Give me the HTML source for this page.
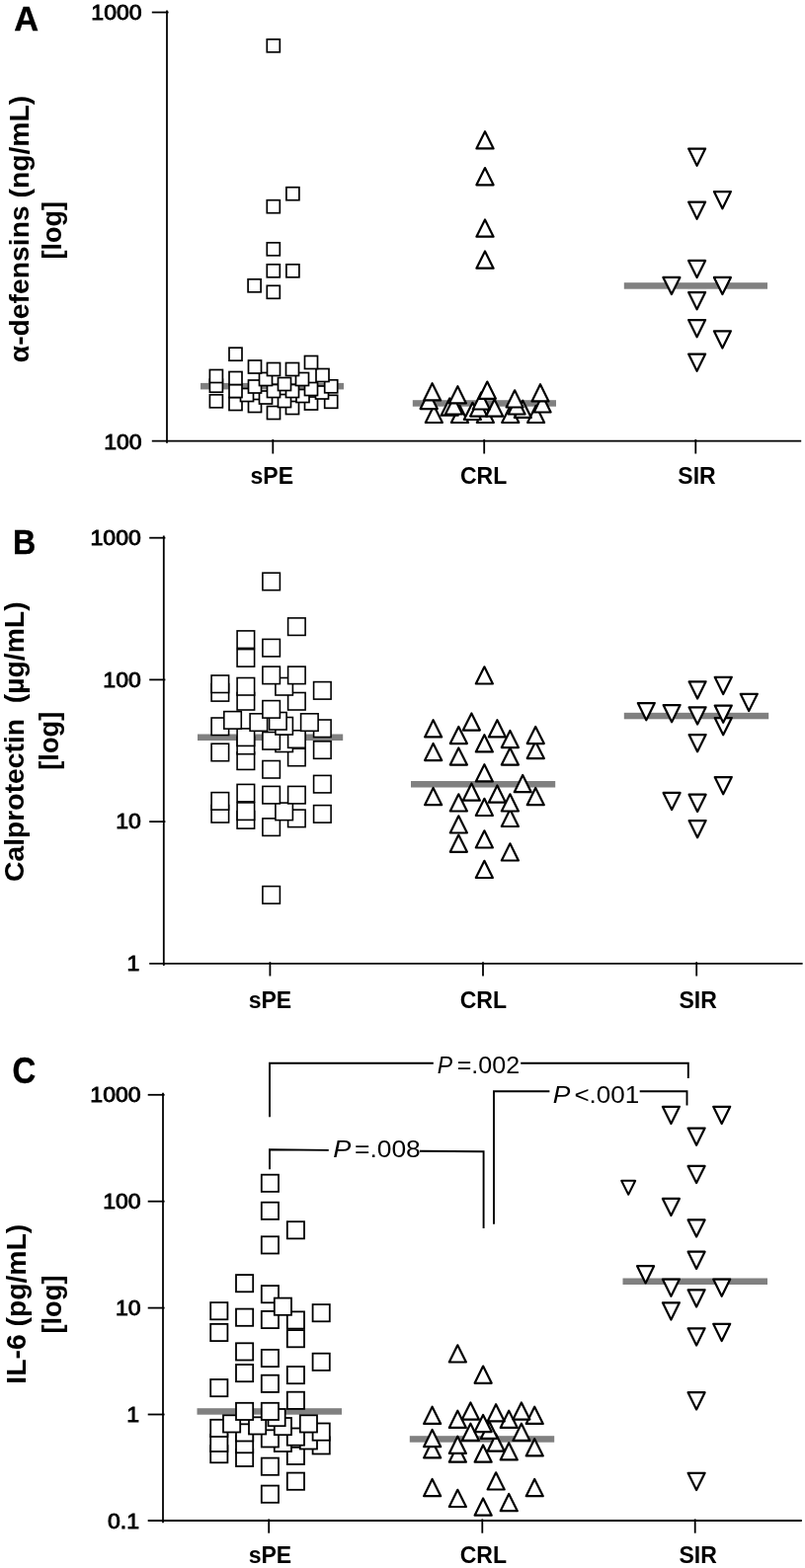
<!DOCTYPE html>
<html lang="en"><head><meta charset="utf-8"><title>Figure</title>
<style>
html,body{margin:0;padding:0;background:#fff}
svg{display:block}
svg text{font-family:"Liberation Sans",Arial,Helvetica,sans-serif;fill:#000}
</style></head><body>
<svg width="815" height="1588" viewBox="0 0 815 1588">
<rect width="815" height="1588" fill="#fff"/>
<g id="panelA">
<text transform="translate(14.3 30.9) scale(0.97 1)" font-size="35.5" font-weight="bold" text-anchor="start" stroke="#000" stroke-width="0.4">A</text>
<path d="M169.0 10.6L169.0 448.8" stroke="#000" stroke-width="1.8" fill="none"/>
<path d="M153.8 12.5L170.6 12.5" stroke="#000" stroke-width="1.8" fill="none"/>
<path d="M153.8 446.6L811.2 446.6" stroke="#000" stroke-width="1.8" fill="none"/>
<path d="M276.3 445.0L276.3 459.5" stroke="#000" stroke-width="1.8" fill="none"/>
<path d="M490.2 445.0L490.2 459.5" stroke="#000" stroke-width="1.8" fill="none"/>
<path d="M704.3 445.0L704.3 459.5" stroke="#000" stroke-width="1.8" fill="none"/>
<text transform="translate(143.6 20.2) scale(1.02 1)" font-size="22.6" font-weight="normal" text-anchor="end" stroke="#000" stroke-width="0.9">1000</text>
<text transform="translate(143.6 454.8) scale(1.02 1)" font-size="22.6" font-weight="normal" text-anchor="end" stroke="#000" stroke-width="0.9">100</text>
<text transform="translate(275.3 490.0) scale(1.0 1)" font-size="23" font-weight="bold" text-anchor="middle" >sPE</text>
<text transform="translate(489.6 490.0) scale(1.0 1)" font-size="23" font-weight="bold" text-anchor="middle" >CRL</text>
<text transform="translate(705.5 490.0) scale(1.0 1)" font-size="23" font-weight="bold" text-anchor="middle" >SIR</text>
<text transform="translate(28.6 232.0) rotate(-90) scale(1.0 1)" font-size="28.3" font-weight="bold" text-anchor="middle" xml:space="preserve">α-defensins (ng/mL)</text>
<text transform="translate(62.2 233.3) rotate(-90) scale(1.0 1)" font-size="27" font-weight="bold" text-anchor="middle" xml:space="preserve">[log]</text>
<rect x="203.0" y="387.9" width="145.0" height="6.5" fill="#808080"/>
<rect x="417.8" y="405.2" width="145.2" height="6.5" fill="#808080"/>
<rect x="631.8" y="286.2" width="145.2" height="6.5" fill="#808080"/>
<rect x="270.5" y="411.5" width="13.0" height="13.0" fill="#fff" stroke="#000" stroke-width="1.7"/>
<rect x="289.5" y="406.5" width="13.0" height="13.0" fill="#fff" stroke="#000" stroke-width="1.7"/>
<rect x="251.5" y="404.5" width="13.0" height="13.0" fill="#fff" stroke="#000" stroke-width="1.7"/>
<rect x="232.0" y="402.5" width="13.0" height="13.0" fill="#fff" stroke="#000" stroke-width="1.7"/>
<rect x="308.5" y="402.0" width="13.0" height="13.0" fill="#fff" stroke="#000" stroke-width="1.7"/>
<rect x="328.7" y="400.3" width="13.0" height="13.0" fill="#fff" stroke="#000" stroke-width="1.7"/>
<rect x="212.4" y="399.8" width="13.0" height="13.0" fill="#fff" stroke="#000" stroke-width="1.7"/>
<rect x="281.5" y="399.5" width="13.0" height="13.0" fill="#fff" stroke="#000" stroke-width="1.7"/>
<rect x="262.5" y="396.0" width="13.0" height="13.0" fill="#fff" stroke="#000" stroke-width="1.7"/>
<rect x="300.0" y="394.5" width="13.0" height="13.0" fill="#fff" stroke="#000" stroke-width="1.7"/>
<rect x="243.5" y="393.5" width="13.0" height="13.0" fill="#fff" stroke="#000" stroke-width="1.7"/>
<rect x="319.5" y="391.0" width="13.0" height="13.0" fill="#fff" stroke="#000" stroke-width="1.7"/>
<rect x="232.0" y="389.5" width="13.0" height="13.0" fill="#fff" stroke="#000" stroke-width="1.7"/>
<rect x="270.5" y="389.5" width="13.0" height="13.0" fill="#fff" stroke="#000" stroke-width="1.7"/>
<rect x="289.5" y="389.5" width="13.0" height="13.0" fill="#fff" stroke="#000" stroke-width="1.7"/>
<rect x="308.5" y="387.5" width="13.0" height="13.0" fill="#fff" stroke="#000" stroke-width="1.7"/>
<rect x="251.5" y="385.0" width="13.0" height="13.0" fill="#fff" stroke="#000" stroke-width="1.7"/>
<rect x="328.7" y="384.8" width="13.0" height="13.0" fill="#fff" stroke="#000" stroke-width="1.7"/>
<rect x="212.4" y="384.2" width="13.0" height="13.0" fill="#fff" stroke="#000" stroke-width="1.7"/>
<rect x="281.5" y="382.5" width="13.0" height="13.0" fill="#fff" stroke="#000" stroke-width="1.7"/>
<rect x="262.5" y="377.5" width="13.0" height="13.0" fill="#fff" stroke="#000" stroke-width="1.7"/>
<rect x="299.5" y="377.5" width="13.0" height="13.0" fill="#fff" stroke="#000" stroke-width="1.7"/>
<rect x="232.0" y="376.5" width="13.0" height="13.0" fill="#fff" stroke="#000" stroke-width="1.7"/>
<rect x="212.4" y="374.5" width="13.0" height="13.0" fill="#fff" stroke="#000" stroke-width="1.7"/>
<rect x="320.0" y="373.5" width="13.0" height="13.0" fill="#fff" stroke="#000" stroke-width="1.7"/>
<rect x="270.5" y="367.5" width="13.0" height="13.0" fill="#fff" stroke="#000" stroke-width="1.7"/>
<rect x="289.5" y="367.5" width="13.0" height="13.0" fill="#fff" stroke="#000" stroke-width="1.7"/>
<rect x="251.5" y="365.0" width="13.0" height="13.0" fill="#fff" stroke="#000" stroke-width="1.7"/>
<rect x="308.5" y="360.5" width="13.0" height="13.0" fill="#fff" stroke="#000" stroke-width="1.7"/>
<rect x="232.0" y="352.2" width="13.0" height="13.0" fill="#fff" stroke="#000" stroke-width="1.7"/>
<rect x="270.3" y="289.3" width="13.0" height="13.0" fill="#fff" stroke="#000" stroke-width="1.7"/>
<rect x="251.1" y="282.8" width="13.0" height="13.0" fill="#fff" stroke="#000" stroke-width="1.7"/>
<rect x="270.3" y="267.8" width="13.0" height="13.0" fill="#fff" stroke="#000" stroke-width="1.7"/>
<rect x="289.9" y="267.8" width="13.0" height="13.0" fill="#fff" stroke="#000" stroke-width="1.7"/>
<rect x="270.3" y="245.8" width="13.0" height="13.0" fill="#fff" stroke="#000" stroke-width="1.7"/>
<rect x="270.3" y="202.7" width="13.0" height="13.0" fill="#fff" stroke="#000" stroke-width="1.7"/>
<rect x="289.9" y="189.7" width="13.0" height="13.0" fill="#fff" stroke="#000" stroke-width="1.7"/>
<rect x="270.3" y="39.8" width="13.0" height="13.0" fill="#fff" stroke="#000" stroke-width="1.7"/>
<path d="M439.3 410.8L447.9 428.0L430.8 428.0Z" fill="#fff" stroke="#000" stroke-width="2.2" stroke-linejoin="round"/>
<path d="M465.5 410.8L474.1 428.0L456.9 428.0Z" fill="#fff" stroke="#000" stroke-width="2.2" stroke-linejoin="round"/>
<path d="M491.3 410.8L499.9 428.0L482.8 428.0Z" fill="#fff" stroke="#000" stroke-width="2.2" stroke-linejoin="round"/>
<path d="M516.8 410.8L525.3 428.0L508.2 428.0Z" fill="#fff" stroke="#000" stroke-width="2.2" stroke-linejoin="round"/>
<path d="M542.6 410.8L551.1 428.0L534.1 428.0Z" fill="#fff" stroke="#000" stroke-width="2.2" stroke-linejoin="round"/>
<path d="M478.4 407.8L486.9 425.0L469.8 425.0Z" fill="#fff" stroke="#000" stroke-width="2.2" stroke-linejoin="round"/>
<path d="M529.3 405.7L537.8 422.9L520.8 422.9Z" fill="#fff" stroke="#000" stroke-width="2.2" stroke-linejoin="round"/>
<path d="M484.7 404.4L493.2 421.6L476.1 421.6Z" fill="#fff" stroke="#000" stroke-width="2.2" stroke-linejoin="round"/>
<path d="M500.6 404.4L509.2 421.6L492.1 421.6Z" fill="#fff" stroke="#000" stroke-width="2.2" stroke-linejoin="round"/>
<path d="M455.2 403.5L463.8 420.7L446.6 420.7Z" fill="#fff" stroke="#000" stroke-width="2.2" stroke-linejoin="round"/>
<path d="M459.5 402.3L468.1 419.5L450.9 419.5Z" fill="#fff" stroke="#000" stroke-width="2.2" stroke-linejoin="round"/>
<path d="M523.1 402.3L531.6 419.5L514.6 419.5Z" fill="#fff" stroke="#000" stroke-width="2.2" stroke-linejoin="round"/>
<path d="M549.1 400.3L557.6 417.5L540.6 417.5Z" fill="#fff" stroke="#000" stroke-width="2.2" stroke-linejoin="round"/>
<path d="M487.3 397.3L495.9 414.5L478.8 414.5Z" fill="#fff" stroke="#000" stroke-width="2.2" stroke-linejoin="round"/>
<path d="M434.2 396.9L442.8 414.1L425.6 414.1Z" fill="#fff" stroke="#000" stroke-width="2.2" stroke-linejoin="round"/>
<path d="M521.1 395.3L529.6 412.5L512.6 412.5Z" fill="#fff" stroke="#000" stroke-width="2.2" stroke-linejoin="round"/>
<path d="M463.4 391.2L471.9 408.4L454.8 408.4Z" fill="#fff" stroke="#000" stroke-width="2.2" stroke-linejoin="round"/>
<path d="M547.0 389.2L555.5 406.4L538.5 406.4Z" fill="#fff" stroke="#000" stroke-width="2.2" stroke-linejoin="round"/>
<path d="M437.6 388.2L446.2 405.4L429.1 405.4Z" fill="#fff" stroke="#000" stroke-width="2.2" stroke-linejoin="round"/>
<path d="M493.3 386.6L501.9 403.8L484.8 403.8Z" fill="#fff" stroke="#000" stroke-width="2.2" stroke-linejoin="round"/>
<path d="M491.0 254.5L499.6 271.7L482.4 271.7Z" fill="#fff" stroke="#000" stroke-width="2.2" stroke-linejoin="round"/>
<path d="M491.0 222.5L499.6 239.7L482.4 239.7Z" fill="#fff" stroke="#000" stroke-width="2.2" stroke-linejoin="round"/>
<path d="M491.0 170.1L499.6 187.3L482.4 187.3Z" fill="#fff" stroke="#000" stroke-width="2.2" stroke-linejoin="round"/>
<path d="M491.0 133.2L499.6 150.4L482.4 150.4Z" fill="#fff" stroke="#000" stroke-width="2.2" stroke-linejoin="round"/>
<path d="M705.6 375.8L714.1 358.6L697.1 358.6Z" fill="#fff" stroke="#000" stroke-width="2.2" stroke-linejoin="round"/>
<path d="M731.4 352.5L739.9 335.3L722.9 335.3Z" fill="#fff" stroke="#000" stroke-width="2.2" stroke-linejoin="round"/>
<path d="M705.6 341.3L714.1 324.1L697.1 324.1Z" fill="#fff" stroke="#000" stroke-width="2.2" stroke-linejoin="round"/>
<path d="M705.6 313.3L714.1 296.1L697.1 296.1Z" fill="#fff" stroke="#000" stroke-width="2.2" stroke-linejoin="round"/>
<path d="M679.9 298.1L688.4 280.9L671.4 280.9Z" fill="#fff" stroke="#000" stroke-width="2.2" stroke-linejoin="round"/>
<path d="M731.4 298.1L739.9 280.9L722.9 280.9Z" fill="#fff" stroke="#000" stroke-width="2.2" stroke-linejoin="round"/>
<path d="M705.6 281.1L714.1 263.9L697.1 263.9Z" fill="#fff" stroke="#000" stroke-width="2.2" stroke-linejoin="round"/>
<path d="M705.6 221.8L714.1 204.6L697.1 204.6Z" fill="#fff" stroke="#000" stroke-width="2.2" stroke-linejoin="round"/>
<path d="M731.4 211.3L739.9 194.1L722.9 194.1Z" fill="#fff" stroke="#000" stroke-width="2.2" stroke-linejoin="round"/>
<path d="M705.6 167.8L714.1 150.6L697.1 150.6Z" fill="#fff" stroke="#000" stroke-width="2.2" stroke-linejoin="round"/>
</g>
<g id="panelB">
<text transform="translate(12.9 561.0) scale(0.92 1)" font-size="35" font-weight="bold" text-anchor="start" stroke="#000" stroke-width="0.4">B</text>
<path d="M165.8 542.6L165.8 977.9" stroke="#000" stroke-width="1.8" fill="none"/>
<path d="M151.2 544.7L167.4 544.7" stroke="#000" stroke-width="1.8" fill="none"/>
<path d="M151.2 688.4L167.4 688.4" stroke="#000" stroke-width="1.8" fill="none"/>
<path d="M151.2 832.1L167.4 832.1" stroke="#000" stroke-width="1.8" fill="none"/>
<path d="M151.2 975.8L812.6 975.8" stroke="#000" stroke-width="1.8" fill="none"/>
<path d="M273.4 974.2L273.4 988.5" stroke="#000" stroke-width="1.8" fill="none"/>
<path d="M489.0 974.2L489.0 988.5" stroke="#000" stroke-width="1.8" fill="none"/>
<path d="M705.2 974.2L705.2 988.5" stroke="#000" stroke-width="1.8" fill="none"/>
<text transform="translate(142.8 552.0) scale(1.02 1)" font-size="22.6" font-weight="normal" text-anchor="end" stroke="#000" stroke-width="0.9">1000</text>
<text transform="translate(142.8 695.7) scale(1.02 1)" font-size="22.6" font-weight="normal" text-anchor="end" stroke="#000" stroke-width="0.9">100</text>
<text transform="translate(142.8 839.4) scale(1.02 1)" font-size="22.6" font-weight="normal" text-anchor="end" stroke="#000" stroke-width="0.9">10</text>
<text transform="translate(141.2 983.1) scale(1.02 1)" font-size="22.6" font-weight="normal" text-anchor="end" stroke="#000" stroke-width="0.9">1</text>
<text transform="translate(273.4 1020.7) scale(1.0 1)" font-size="23" font-weight="bold" text-anchor="middle" >sPE</text>
<text transform="translate(489.3 1020.7) scale(1.0 1)" font-size="23" font-weight="bold" text-anchor="middle" >CRL</text>
<text transform="translate(706.7 1020.7) scale(1.0 1)" font-size="23" font-weight="bold" text-anchor="middle" >SIR</text>
<text transform="translate(24.4 751.2) rotate(-90) scale(1.0 1)" font-size="28.3" font-weight="bold" text-anchor="middle" xml:space="preserve">Calprotectin  (µg/mL)</text>
<text transform="translate(59.2 750.2) rotate(-90) scale(1.0 1)" font-size="27.3" font-weight="bold" text-anchor="middle" xml:space="preserve">[log]</text>
<rect x="200.0" y="743.5" width="147.2" height="6.5" fill="#808080"/>
<rect x="416.0" y="791.0" width="146.2" height="6.5" fill="#808080"/>
<rect x="631.8" y="721.8" width="146.4" height="6.5" fill="#808080"/>
<rect x="265.9" y="897.6" width="17.5" height="17.5" fill="#fff" stroke="#000" stroke-width="1.6"/>
<rect x="265.9" y="828.9" width="17.5" height="17.5" fill="#fff" stroke="#000" stroke-width="1.6"/>
<rect x="240.1" y="821.6" width="17.5" height="17.5" fill="#fff" stroke="#000" stroke-width="1.6"/>
<rect x="291.6" y="820.1" width="17.5" height="17.5" fill="#fff" stroke="#000" stroke-width="1.6"/>
<rect x="317.6" y="815.6" width="17.5" height="17.5" fill="#fff" stroke="#000" stroke-width="1.6"/>
<rect x="214.1" y="815.5" width="17.5" height="17.5" fill="#fff" stroke="#000" stroke-width="1.6"/>
<rect x="278.9" y="813.1" width="17.5" height="17.5" fill="#fff" stroke="#000" stroke-width="1.6"/>
<rect x="240.1" y="812.9" width="17.5" height="17.5" fill="#fff" stroke="#000" stroke-width="1.6"/>
<rect x="214.1" y="802.6" width="17.5" height="17.5" fill="#fff" stroke="#000" stroke-width="1.6"/>
<rect x="265.9" y="796.4" width="17.5" height="17.5" fill="#fff" stroke="#000" stroke-width="1.6"/>
<rect x="291.6" y="796.4" width="17.5" height="17.5" fill="#fff" stroke="#000" stroke-width="1.6"/>
<rect x="240.1" y="794.4" width="17.5" height="17.5" fill="#fff" stroke="#000" stroke-width="1.6"/>
<rect x="317.6" y="785.4" width="17.5" height="17.5" fill="#fff" stroke="#000" stroke-width="1.6"/>
<rect x="265.9" y="770.5" width="17.5" height="17.5" fill="#fff" stroke="#000" stroke-width="1.6"/>
<rect x="240.1" y="761.9" width="17.5" height="17.5" fill="#fff" stroke="#000" stroke-width="1.6"/>
<rect x="291.6" y="758.2" width="17.5" height="17.5" fill="#fff" stroke="#000" stroke-width="1.6"/>
<rect x="214.1" y="753.2" width="17.5" height="17.5" fill="#fff" stroke="#000" stroke-width="1.6"/>
<rect x="317.6" y="750.8" width="17.5" height="17.5" fill="#fff" stroke="#000" stroke-width="1.6"/>
<rect x="240.1" y="746.2" width="17.5" height="17.5" fill="#fff" stroke="#000" stroke-width="1.6"/>
<rect x="278.9" y="744.0" width="17.5" height="17.5" fill="#fff" stroke="#000" stroke-width="1.6"/>
<rect x="265.9" y="741.5" width="17.5" height="17.5" fill="#fff" stroke="#000" stroke-width="1.6"/>
<rect x="291.6" y="739.8" width="17.5" height="17.5" fill="#fff" stroke="#000" stroke-width="1.6"/>
<rect x="240.1" y="737.9" width="17.5" height="17.5" fill="#fff" stroke="#000" stroke-width="1.6"/>
<rect x="317.6" y="729.0" width="17.5" height="17.5" fill="#fff" stroke="#000" stroke-width="1.6"/>
<rect x="214.1" y="727.0" width="17.5" height="17.5" fill="#fff" stroke="#000" stroke-width="1.6"/>
<rect x="278.9" y="726.5" width="17.5" height="17.5" fill="#fff" stroke="#000" stroke-width="1.6"/>
<rect x="253.1" y="722.8" width="17.5" height="17.5" fill="#fff" stroke="#000" stroke-width="1.6"/>
<rect x="304.6" y="722.8" width="17.5" height="17.5" fill="#fff" stroke="#000" stroke-width="1.6"/>
<rect x="272.6" y="721.5" width="17.5" height="17.5" fill="#fff" stroke="#000" stroke-width="1.6"/>
<rect x="226.8" y="720.6" width="17.5" height="17.5" fill="#fff" stroke="#000" stroke-width="1.6"/>
<rect x="265.9" y="709.6" width="17.5" height="17.5" fill="#fff" stroke="#000" stroke-width="1.6"/>
<rect x="240.1" y="701.5" width="17.5" height="17.5" fill="#fff" stroke="#000" stroke-width="1.6"/>
<rect x="291.6" y="701.5" width="17.5" height="17.5" fill="#fff" stroke="#000" stroke-width="1.6"/>
<rect x="214.1" y="692.6" width="17.5" height="17.5" fill="#fff" stroke="#000" stroke-width="1.6"/>
<rect x="317.6" y="690.6" width="17.5" height="17.5" fill="#fff" stroke="#000" stroke-width="1.6"/>
<rect x="240.1" y="686.5" width="17.5" height="17.5" fill="#fff" stroke="#000" stroke-width="1.6"/>
<rect x="278.9" y="686.5" width="17.5" height="17.5" fill="#fff" stroke="#000" stroke-width="1.6"/>
<rect x="214.1" y="684.0" width="17.5" height="17.5" fill="#fff" stroke="#000" stroke-width="1.6"/>
<rect x="265.9" y="675.1" width="17.5" height="17.5" fill="#fff" stroke="#000" stroke-width="1.6"/>
<rect x="291.6" y="675.1" width="17.5" height="17.5" fill="#fff" stroke="#000" stroke-width="1.6"/>
<rect x="240.1" y="657.6" width="17.5" height="17.5" fill="#fff" stroke="#000" stroke-width="1.6"/>
<rect x="265.9" y="647.4" width="17.5" height="17.5" fill="#fff" stroke="#000" stroke-width="1.6"/>
<rect x="240.1" y="638.9" width="17.5" height="17.5" fill="#fff" stroke="#000" stroke-width="1.6"/>
<rect x="291.6" y="625.9" width="17.5" height="17.5" fill="#fff" stroke="#000" stroke-width="1.6"/>
<rect x="265.9" y="580.2" width="17.5" height="17.5" fill="#fff" stroke="#000" stroke-width="1.6"/>
<path d="M490.4 871.8L498.9 889.0L481.8 889.0Z" fill="#fff" stroke="#000" stroke-width="2.2" stroke-linejoin="round"/>
<path d="M516.4 854.3L524.9 871.5L507.8 871.5Z" fill="#fff" stroke="#000" stroke-width="2.2" stroke-linejoin="round"/>
<path d="M464.3 845.6L472.9 862.8L455.8 862.8Z" fill="#fff" stroke="#000" stroke-width="2.2" stroke-linejoin="round"/>
<path d="M490.4 841.3L498.9 858.5L481.8 858.5Z" fill="#fff" stroke="#000" stroke-width="2.2" stroke-linejoin="round"/>
<path d="M464.3 826.3L472.9 843.5L455.8 843.5Z" fill="#fff" stroke="#000" stroke-width="2.2" stroke-linejoin="round"/>
<path d="M516.4 819.8L524.9 837.0L507.8 837.0Z" fill="#fff" stroke="#000" stroke-width="2.2" stroke-linejoin="round"/>
<path d="M490.4 808.8L498.9 826.0L481.8 826.0Z" fill="#fff" stroke="#000" stroke-width="2.2" stroke-linejoin="round"/>
<path d="M464.3 804.3L472.9 821.5L455.8 821.5Z" fill="#fff" stroke="#000" stroke-width="2.2" stroke-linejoin="round"/>
<path d="M516.4 804.3L524.9 821.5L507.8 821.5Z" fill="#fff" stroke="#000" stroke-width="2.2" stroke-linejoin="round"/>
<path d="M438.6 798.0L447.2 815.2L430.1 815.2Z" fill="#fff" stroke="#000" stroke-width="2.2" stroke-linejoin="round"/>
<path d="M542.2 798.0L550.8 815.2L533.7 815.2Z" fill="#fff" stroke="#000" stroke-width="2.2" stroke-linejoin="round"/>
<path d="M503.4 795.5L511.9 812.7L494.8 812.7Z" fill="#fff" stroke="#000" stroke-width="2.2" stroke-linejoin="round"/>
<path d="M477.4 793.5L485.9 810.7L468.8 810.7Z" fill="#fff" stroke="#000" stroke-width="2.2" stroke-linejoin="round"/>
<path d="M529.2 785.0L537.8 802.2L520.7 802.2Z" fill="#fff" stroke="#000" stroke-width="2.2" stroke-linejoin="round"/>
<path d="M490.4 774.2L498.9 791.4L481.8 791.4Z" fill="#fff" stroke="#000" stroke-width="2.2" stroke-linejoin="round"/>
<path d="M464.3 757.4L472.9 774.6L455.8 774.6Z" fill="#fff" stroke="#000" stroke-width="2.2" stroke-linejoin="round"/>
<path d="M516.4 757.4L524.9 774.6L507.8 774.6Z" fill="#fff" stroke="#000" stroke-width="2.2" stroke-linejoin="round"/>
<path d="M438.6 752.9L447.2 770.1L430.1 770.1Z" fill="#fff" stroke="#000" stroke-width="2.2" stroke-linejoin="round"/>
<path d="M542.2 750.9L550.8 768.1L533.7 768.1Z" fill="#fff" stroke="#000" stroke-width="2.2" stroke-linejoin="round"/>
<path d="M490.4 744.2L498.9 761.4L481.8 761.4Z" fill="#fff" stroke="#000" stroke-width="2.2" stroke-linejoin="round"/>
<path d="M516.4 739.9L524.9 757.1L507.8 757.1Z" fill="#fff" stroke="#000" stroke-width="2.2" stroke-linejoin="round"/>
<path d="M464.3 735.9L472.9 753.1L455.8 753.1Z" fill="#fff" stroke="#000" stroke-width="2.2" stroke-linejoin="round"/>
<path d="M542.2 735.9L550.8 753.1L533.7 753.1Z" fill="#fff" stroke="#000" stroke-width="2.2" stroke-linejoin="round"/>
<path d="M438.6 729.2L447.2 746.4L430.1 746.4Z" fill="#fff" stroke="#000" stroke-width="2.2" stroke-linejoin="round"/>
<path d="M503.4 729.2L511.9 746.4L494.8 746.4Z" fill="#fff" stroke="#000" stroke-width="2.2" stroke-linejoin="round"/>
<path d="M477.4 722.4L485.9 739.6L468.8 739.6Z" fill="#fff" stroke="#000" stroke-width="2.2" stroke-linejoin="round"/>
<path d="M490.4 675.3L498.9 692.5L481.8 692.5Z" fill="#fff" stroke="#000" stroke-width="2.2" stroke-linejoin="round"/>
<path d="M706.1 848.3L714.6 831.1L697.6 831.1Z" fill="#fff" stroke="#000" stroke-width="2.2" stroke-linejoin="round"/>
<path d="M706.1 821.9L714.6 804.7L697.6 804.7Z" fill="#fff" stroke="#000" stroke-width="2.2" stroke-linejoin="round"/>
<path d="M680.1 820.1L688.6 802.9L671.6 802.9Z" fill="#fff" stroke="#000" stroke-width="2.2" stroke-linejoin="round"/>
<path d="M732.2 804.3L740.8 787.1L723.7 787.1Z" fill="#fff" stroke="#000" stroke-width="2.2" stroke-linejoin="round"/>
<path d="M706.1 761.3L714.6 744.1L697.6 744.1Z" fill="#fff" stroke="#000" stroke-width="2.2" stroke-linejoin="round"/>
<path d="M732.2 744.3L740.8 727.1L723.7 727.1Z" fill="#fff" stroke="#000" stroke-width="2.2" stroke-linejoin="round"/>
<path d="M706.1 733.5L714.6 716.3L697.6 716.3Z" fill="#fff" stroke="#000" stroke-width="2.2" stroke-linejoin="round"/>
<path d="M732.2 731.8L740.8 714.6L723.7 714.6Z" fill="#fff" stroke="#000" stroke-width="2.2" stroke-linejoin="round"/>
<path d="M680.1 731.3L688.6 714.1L671.6 714.1Z" fill="#fff" stroke="#000" stroke-width="2.2" stroke-linejoin="round"/>
<path d="M654.3 729.3L662.8 712.1L645.8 712.1Z" fill="#fff" stroke="#000" stroke-width="2.2" stroke-linejoin="round"/>
<path d="M758.2 720.0L766.8 702.8L749.7 702.8Z" fill="#fff" stroke="#000" stroke-width="2.2" stroke-linejoin="round"/>
<path d="M706.1 707.5L714.6 690.3L697.6 690.3Z" fill="#fff" stroke="#000" stroke-width="2.2" stroke-linejoin="round"/>
<path d="M732.2 703.0L740.8 685.8L723.7 685.8Z" fill="#fff" stroke="#000" stroke-width="2.2" stroke-linejoin="round"/>
</g>
<g id="panelC">
<text transform="translate(12.6 1096.7) scale(0.89 1)" font-size="37" font-weight="bold" text-anchor="start" stroke="#000" stroke-width="0.4">C</text>
<path d="M165.0 1106.8L165.0 1542.3" stroke="#000" stroke-width="1.8" fill="none"/>
<path d="M149.7 1108.8L166.6 1108.8" stroke="#000" stroke-width="1.8" fill="none"/>
<path d="M149.7 1216.7L166.6 1216.7" stroke="#000" stroke-width="1.8" fill="none"/>
<path d="M149.7 1324.6L166.6 1324.6" stroke="#000" stroke-width="1.8" fill="none"/>
<path d="M149.7 1432.5L166.6 1432.5" stroke="#000" stroke-width="1.8" fill="none"/>
<path d="M149.7 1540.0L811.8 1540.0" stroke="#000" stroke-width="1.8" fill="none"/>
<path d="M272.2 1538.4L272.2 1552.7" stroke="#000" stroke-width="1.8" fill="none"/>
<path d="M488.3 1538.4L488.3 1552.7" stroke="#000" stroke-width="1.8" fill="none"/>
<path d="M703.7 1538.4L703.7 1552.7" stroke="#000" stroke-width="1.8" fill="none"/>
<text transform="translate(142.6 1116.0) scale(1.02 1)" font-size="22.6" font-weight="normal" text-anchor="end" stroke="#000" stroke-width="0.9">1000</text>
<text transform="translate(142.6 1223.9) scale(1.02 1)" font-size="22.6" font-weight="normal" text-anchor="end" stroke="#000" stroke-width="0.9">100</text>
<text transform="translate(142.6 1331.8) scale(1.02 1)" font-size="22.6" font-weight="normal" text-anchor="end" stroke="#000" stroke-width="0.9">10</text>
<text transform="translate(141.0 1439.7) scale(1.02 1)" font-size="22.6" font-weight="normal" text-anchor="end" stroke="#000" stroke-width="0.9">1</text>
<text transform="translate(141.0 1547.6) scale(1.02 1)" font-size="22.6" font-weight="normal" text-anchor="end" stroke="#000" stroke-width="0.9">0.1</text>
<text transform="translate(273.4 1583.0) scale(1.0 1)" font-size="23" font-weight="bold" text-anchor="middle" >sPE</text>
<text transform="translate(489.3 1583.0) scale(1.0 1)" font-size="23" font-weight="bold" text-anchor="middle" >CRL</text>
<text transform="translate(706.7 1583.0) scale(1.0 1)" font-size="23" font-weight="bold" text-anchor="middle" >SIR</text>
<text transform="translate(26.3 1320.7) rotate(-90) scale(1.0 1)" font-size="28.3" font-weight="bold" text-anchor="middle" xml:space="preserve">IL-6 (pg/mL)</text>
<text transform="translate(61.9 1321.0) rotate(-90) scale(1.0 1)" font-size="27.3" font-weight="bold" text-anchor="middle" xml:space="preserve">[log]</text>
<path d="M273 1131.2V1076.8H438.8M527.2 1076.8H696.8V1092" stroke="#000" stroke-width="1.9" fill="none"/>
<path d="M273 1184.2V1164.3L332.8 1164.9M424.9 1165.7L489.6 1166.2V1244" stroke="#000" stroke-width="1.9" fill="none"/>
<path d="M500 1239.8V1105.3H556.4M647.7 1105.3H695.5V1119.4" stroke="#000" stroke-width="1.9" fill="none"/>
<text transform="translate(442.7 1086.8) scale(1.0 1)" font-size="23" font-weight="normal" font-style="italic">P</text>
<text transform="translate(462.7 1086.8) scale(1.09 1)" font-size="23" font-weight="normal">=.002</text>
<text transform="translate(337.2 1171.8) scale(1.13 1)" font-size="24" font-weight="normal" font-style="italic">P</text>
<text transform="translate(359.0 1171.8) scale(1.1 1)" font-size="24" font-weight="normal">=.008</text>
<text transform="translate(559.7 1116.7) scale(1.1 1)" font-size="24" font-weight="normal" font-style="italic">P</text>
<text transform="translate(581.4 1116.7) scale(1.085 1)" font-size="24" font-weight="normal">&lt;.001</text>
<rect x="199.5" y="1426.2" width="146.5" height="6.5" fill="#808080"/>
<rect x="414.8" y="1454.2" width="146.4" height="6.5" fill="#808080"/>
<rect x="630.5" y="1294.5" width="146.5" height="6.5" fill="#808080"/>
<rect x="264.8" y="1504.6" width="17.2" height="17.2" fill="#fff" stroke="#000" stroke-width="1.8"/>
<rect x="290.8" y="1491.6" width="17.2" height="17.2" fill="#fff" stroke="#000" stroke-width="1.8"/>
<rect x="264.8" y="1476.6" width="17.2" height="17.2" fill="#fff" stroke="#000" stroke-width="1.8"/>
<rect x="239.0" y="1467.8" width="17.2" height="17.2" fill="#fff" stroke="#000" stroke-width="1.8"/>
<rect x="290.8" y="1465.8" width="17.2" height="17.2" fill="#fff" stroke="#000" stroke-width="1.8"/>
<rect x="213.2" y="1464.1" width="17.2" height="17.2" fill="#fff" stroke="#000" stroke-width="1.8"/>
<rect x="316.6" y="1455.3" width="17.2" height="17.2" fill="#fff" stroke="#000" stroke-width="1.8"/>
<rect x="239.0" y="1454.1" width="17.2" height="17.2" fill="#fff" stroke="#000" stroke-width="1.8"/>
<rect x="213.2" y="1452.8" width="17.2" height="17.2" fill="#fff" stroke="#000" stroke-width="1.8"/>
<rect x="277.8" y="1452.8" width="17.2" height="17.2" fill="#fff" stroke="#000" stroke-width="1.8"/>
<rect x="303.8" y="1450.3" width="17.2" height="17.2" fill="#fff" stroke="#000" stroke-width="1.8"/>
<rect x="264.8" y="1448.3" width="17.2" height="17.2" fill="#fff" stroke="#000" stroke-width="1.8"/>
<rect x="290.8" y="1446.5" width="17.2" height="17.2" fill="#fff" stroke="#000" stroke-width="1.8"/>
<rect x="239.0" y="1442.3" width="17.2" height="17.2" fill="#fff" stroke="#000" stroke-width="1.8"/>
<rect x="316.6" y="1441.5" width="17.2" height="17.2" fill="#fff" stroke="#000" stroke-width="1.8"/>
<rect x="213.2" y="1437.8" width="17.2" height="17.2" fill="#fff" stroke="#000" stroke-width="1.8"/>
<rect x="277.8" y="1436.0" width="17.2" height="17.2" fill="#fff" stroke="#000" stroke-width="1.8"/>
<rect x="252.0" y="1435.3" width="17.2" height="17.2" fill="#fff" stroke="#000" stroke-width="1.8"/>
<rect x="226.0" y="1433.3" width="17.2" height="17.2" fill="#fff" stroke="#000" stroke-width="1.8"/>
<rect x="303.8" y="1433.3" width="17.2" height="17.2" fill="#fff" stroke="#000" stroke-width="1.8"/>
<rect x="271.5" y="1427.0" width="17.2" height="17.2" fill="#fff" stroke="#000" stroke-width="1.8"/>
<rect x="239.0" y="1420.8" width="17.2" height="17.2" fill="#fff" stroke="#000" stroke-width="1.8"/>
<rect x="264.8" y="1420.8" width="17.2" height="17.2" fill="#fff" stroke="#000" stroke-width="1.8"/>
<rect x="290.8" y="1409.7" width="17.2" height="17.2" fill="#fff" stroke="#000" stroke-width="1.8"/>
<rect x="213.2" y="1397.0" width="17.2" height="17.2" fill="#fff" stroke="#000" stroke-width="1.8"/>
<rect x="264.8" y="1392.7" width="17.2" height="17.2" fill="#fff" stroke="#000" stroke-width="1.8"/>
<rect x="290.8" y="1384.0" width="17.2" height="17.2" fill="#fff" stroke="#000" stroke-width="1.8"/>
<rect x="239.0" y="1382.0" width="17.2" height="17.2" fill="#fff" stroke="#000" stroke-width="1.8"/>
<rect x="316.6" y="1370.7" width="17.2" height="17.2" fill="#fff" stroke="#000" stroke-width="1.8"/>
<rect x="264.8" y="1366.9" width="17.2" height="17.2" fill="#fff" stroke="#000" stroke-width="1.8"/>
<rect x="239.0" y="1360.3" width="17.2" height="17.2" fill="#fff" stroke="#000" stroke-width="1.8"/>
<rect x="290.8" y="1347.1" width="17.2" height="17.2" fill="#fff" stroke="#000" stroke-width="1.8"/>
<rect x="213.2" y="1340.9" width="17.2" height="17.2" fill="#fff" stroke="#000" stroke-width="1.8"/>
<rect x="290.8" y="1328.4" width="17.2" height="17.2" fill="#fff" stroke="#000" stroke-width="1.8"/>
<rect x="264.8" y="1327.9" width="17.2" height="17.2" fill="#fff" stroke="#000" stroke-width="1.8"/>
<rect x="239.0" y="1325.6" width="17.2" height="17.2" fill="#fff" stroke="#000" stroke-width="1.8"/>
<rect x="316.6" y="1321.1" width="17.2" height="17.2" fill="#fff" stroke="#000" stroke-width="1.8"/>
<rect x="213.2" y="1319.1" width="17.2" height="17.2" fill="#fff" stroke="#000" stroke-width="1.8"/>
<rect x="264.8" y="1302.1" width="17.2" height="17.2" fill="#fff" stroke="#000" stroke-width="1.8"/>
<rect x="239.0" y="1291.1" width="17.2" height="17.2" fill="#fff" stroke="#000" stroke-width="1.8"/>
<rect x="264.8" y="1252.3" width="17.2" height="17.2" fill="#fff" stroke="#000" stroke-width="1.8"/>
<rect x="290.8" y="1237.2" width="17.2" height="17.2" fill="#fff" stroke="#000" stroke-width="1.8"/>
<rect x="264.8" y="1217.7" width="17.2" height="17.2" fill="#fff" stroke="#000" stroke-width="1.8"/>
<rect x="264.8" y="1189.7" width="17.2" height="17.2" fill="#fff" stroke="#000" stroke-width="1.8"/>
<rect x="277.8" y="1314.6" width="17.2" height="17.2" fill="#fff" stroke="#000" stroke-width="1.8"/>
<path d="M489.1 1517.5L497.7 1534.7L480.6 1534.7Z" fill="#fff" stroke="#000" stroke-width="2.2" stroke-linejoin="round"/>
<path d="M515.2 1513.0L523.8 1530.2L506.7 1530.2Z" fill="#fff" stroke="#000" stroke-width="2.2" stroke-linejoin="round"/>
<path d="M463.3 1508.8L471.9 1526.0L454.8 1526.0Z" fill="#fff" stroke="#000" stroke-width="2.2" stroke-linejoin="round"/>
<path d="M437.6 1498.0L446.2 1515.2L429.1 1515.2Z" fill="#fff" stroke="#000" stroke-width="2.2" stroke-linejoin="round"/>
<path d="M541.2 1498.0L549.8 1515.2L532.7 1515.2Z" fill="#fff" stroke="#000" stroke-width="2.2" stroke-linejoin="round"/>
<path d="M502.1 1491.3L510.7 1508.5L493.6 1508.5Z" fill="#fff" stroke="#000" stroke-width="2.2" stroke-linejoin="round"/>
<path d="M463.3 1463.5L471.9 1480.7L454.8 1480.7Z" fill="#fff" stroke="#000" stroke-width="2.2" stroke-linejoin="round"/>
<path d="M489.1 1463.5L497.7 1480.7L480.6 1480.7Z" fill="#fff" stroke="#000" stroke-width="2.2" stroke-linejoin="round"/>
<path d="M515.2 1461.2L523.8 1478.4L506.7 1478.4Z" fill="#fff" stroke="#000" stroke-width="2.2" stroke-linejoin="round"/>
<path d="M437.6 1459.2L446.2 1476.4L429.1 1476.4Z" fill="#fff" stroke="#000" stroke-width="2.2" stroke-linejoin="round"/>
<path d="M541.2 1457.2L549.8 1474.4L532.7 1474.4Z" fill="#fff" stroke="#000" stroke-width="2.2" stroke-linejoin="round"/>
<path d="M463.3 1454.7L471.9 1471.9L454.8 1471.9Z" fill="#fff" stroke="#000" stroke-width="2.2" stroke-linejoin="round"/>
<path d="M502.1 1452.5L510.7 1469.7L493.6 1469.7Z" fill="#fff" stroke="#000" stroke-width="2.2" stroke-linejoin="round"/>
<path d="M437.6 1448.0L446.2 1465.2L429.1 1465.2Z" fill="#fff" stroke="#000" stroke-width="2.2" stroke-linejoin="round"/>
<path d="M476.4 1441.7L484.9 1458.9L467.8 1458.9Z" fill="#fff" stroke="#000" stroke-width="2.2" stroke-linejoin="round"/>
<path d="M527.9 1441.7L536.4 1458.9L519.4 1458.9Z" fill="#fff" stroke="#000" stroke-width="2.2" stroke-linejoin="round"/>
<path d="M495.4 1439.7L503.9 1456.9L486.8 1456.9Z" fill="#fff" stroke="#000" stroke-width="2.2" stroke-linejoin="round"/>
<path d="M489.1 1432.9L497.7 1450.1L480.6 1450.1Z" fill="#fff" stroke="#000" stroke-width="2.2" stroke-linejoin="round"/>
<path d="M463.3 1428.7L471.9 1445.9L454.8 1445.9Z" fill="#fff" stroke="#000" stroke-width="2.2" stroke-linejoin="round"/>
<path d="M515.2 1428.7L523.8 1445.9L506.7 1445.9Z" fill="#fff" stroke="#000" stroke-width="2.2" stroke-linejoin="round"/>
<path d="M437.6 1424.7L446.2 1441.9L429.1 1441.9Z" fill="#fff" stroke="#000" stroke-width="2.2" stroke-linejoin="round"/>
<path d="M541.2 1424.7L549.8 1441.9L532.7 1441.9Z" fill="#fff" stroke="#000" stroke-width="2.2" stroke-linejoin="round"/>
<path d="M502.1 1422.2L510.7 1439.4L493.6 1439.4Z" fill="#fff" stroke="#000" stroke-width="2.2" stroke-linejoin="round"/>
<path d="M476.4 1420.4L484.9 1437.6L467.8 1437.6Z" fill="#fff" stroke="#000" stroke-width="2.2" stroke-linejoin="round"/>
<path d="M527.9 1420.4L536.4 1437.6L519.4 1437.6Z" fill="#fff" stroke="#000" stroke-width="2.2" stroke-linejoin="round"/>
<path d="M489.1 1383.6L497.7 1400.8L480.6 1400.8Z" fill="#fff" stroke="#000" stroke-width="2.2" stroke-linejoin="round"/>
<path d="M463.3 1362.3L471.9 1379.5L454.8 1379.5Z" fill="#fff" stroke="#000" stroke-width="2.2" stroke-linejoin="round"/>
<path d="M705.1 1509.0L713.6 1491.8L696.6 1491.8Z" fill="#fff" stroke="#000" stroke-width="2.2" stroke-linejoin="round"/>
<path d="M705.1 1427.4L713.6 1410.2L696.6 1410.2Z" fill="#fff" stroke="#000" stroke-width="2.2" stroke-linejoin="round"/>
<path d="M705.1 1362.5L713.6 1345.3L696.6 1345.3Z" fill="#fff" stroke="#000" stroke-width="2.2" stroke-linejoin="round"/>
<path d="M730.7 1358.0L739.2 1340.8L722.2 1340.8Z" fill="#fff" stroke="#000" stroke-width="2.2" stroke-linejoin="round"/>
<path d="M679.4 1336.5L687.9 1319.3L670.9 1319.3Z" fill="#fff" stroke="#000" stroke-width="2.2" stroke-linejoin="round"/>
<path d="M705.1 1323.5L713.6 1306.3L696.6 1306.3Z" fill="#fff" stroke="#000" stroke-width="2.2" stroke-linejoin="round"/>
<path d="M679.4 1312.8L687.9 1295.6L670.9 1295.6Z" fill="#fff" stroke="#000" stroke-width="2.2" stroke-linejoin="round"/>
<path d="M730.7 1312.8L739.2 1295.6L722.2 1295.6Z" fill="#fff" stroke="#000" stroke-width="2.2" stroke-linejoin="round"/>
<path d="M653.6 1299.4L662.1 1282.2L645.1 1282.2Z" fill="#fff" stroke="#000" stroke-width="2.2" stroke-linejoin="round"/>
<path d="M705.1 1284.9L713.6 1267.7L696.6 1267.7Z" fill="#fff" stroke="#000" stroke-width="2.2" stroke-linejoin="round"/>
<path d="M705.1 1252.6L713.6 1235.4L696.6 1235.4Z" fill="#fff" stroke="#000" stroke-width="2.2" stroke-linejoin="round"/>
<path d="M679.4 1231.1L687.9 1213.9L670.9 1213.9Z" fill="#fff" stroke="#000" stroke-width="2.2" stroke-linejoin="round"/>
<path d="M705.1 1198.1L713.6 1180.9L696.6 1180.9Z" fill="#fff" stroke="#000" stroke-width="2.2" stroke-linejoin="round"/>
<path d="M705.1 1159.8L713.6 1142.6L696.6 1142.6Z" fill="#fff" stroke="#000" stroke-width="2.2" stroke-linejoin="round"/>
<path d="M679.4 1138.0L687.9 1120.8L670.9 1120.8Z" fill="#fff" stroke="#000" stroke-width="2.2" stroke-linejoin="round"/>
<path d="M730.7 1138.0L739.2 1120.8L722.2 1120.8Z" fill="#fff" stroke="#000" stroke-width="2.2" stroke-linejoin="round"/>
<path d="M636.2 1209.8L643.2 1195.8L629.2 1195.8Z" fill="#fff" stroke="#000" stroke-width="2.0" stroke-linejoin="round"/>
</g>
</svg>
</body></html>
